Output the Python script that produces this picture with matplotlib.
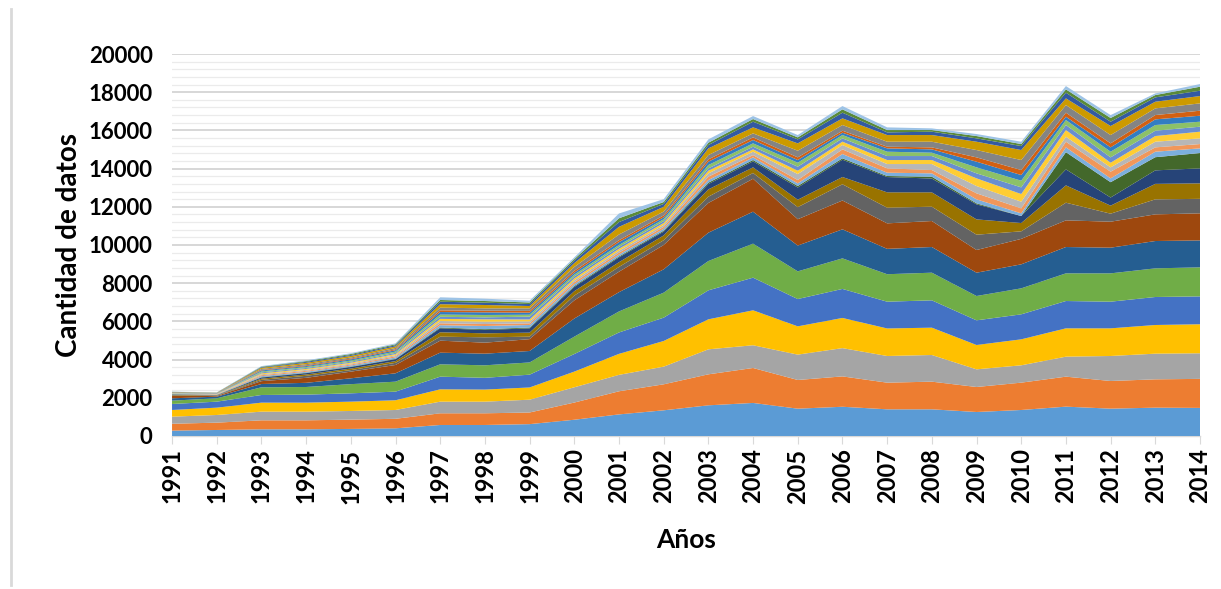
import numpy as np
import matplotlib.pyplot as plt
from matplotlib.lines import Line2D
from matplotlib.ticker import MultipleLocator

years = np.arange(1991, 2015)

# cumulative top of each layer (bottom layer first)
top01 = [280, 314, 349, 349, 370, 400, 576, 576, 620, 850, 1130, 1344, 1605, 1730, 1430, 1530, 1396, 1396, 1256, 1361, 1536, 1431, 1483, 1470]
top02 = [640, 698, 820, 820, 855, 900, 1187, 1187, 1230, 1750, 2340, 2705, 3228, 3560, 2932, 3120, 2792, 2844, 2565, 2792, 3106, 2879, 2966, 2990]
top03 = [1012, 1099, 1274, 1274, 1309, 1361, 1797, 1797, 1900, 2550, 3200, 3630, 4537, 4750, 4260, 4600, 4188, 4240, 3490, 3700, 4153, 4188, 4310, 4330]
top04 = [1361, 1483, 1745, 1745, 1797, 1870, 2443, 2430, 2540, 3370, 4300, 4973, 6108, 6580, 5740, 6180, 5630, 5671, 4764, 5060, 5636, 5636, 5811, 5850]
top05 = [1675, 1797, 2146, 2165, 2234, 2321, 3106, 3045, 3210, 4290, 5420, 6195, 7626, 8289, 7170, 7700, 7032, 7102, 6055, 6369, 7067, 7032, 7277, 7310]
top06 = [1850, 1972, 2548, 2565, 2714, 2844, 3752, 3700, 3850, 5200, 6520, 7504, 9161, 10070, 8620, 9300, 8470, 8550, 7329, 7730, 8515, 8515, 8777, 8830]
top07 = [1972, 2059, 2722, 2783, 3019, 3281, 4363, 4310, 4450, 6150, 7530, 8725, 10645, 11744, 9970, 10820, 9798, 9894, 8550, 8987, 9894, 9859, 10208, 10240]
top08 = [2094, 2094, 2870, 3045, 3368, 3717, 4991, 4886, 5070, 7100, 8600, 10000, 12200, 13470, 11350, 12330, 11133, 11255, 9737, 10320, 11290, 11220, 11604, 11657]
top09 = [2130, 2110, 2940, 3150, 3450, 3830, 5200, 5165, 5200, 7350, 8850, 10250, 12529, 13770, 11980, 13180, 11953, 12006, 10540, 10715, 12215, 11640, 12390, 12416]
top10 = [2160, 2125, 3000, 3220, 3530, 3920, 5430, 5375, 5410, 7580, 9100, 10500, 12913, 14065, 12370, 13560, 12756, 12756, 11340, 11150, 13122, 12060, 13200, 13227]
top11 = [2180, 2140, 3060, 3290, 3610, 4020, 5640, 5549, 5636, 7800, 9350, 10700, 13192, 14380, 13010, 14466, 13558, 13480, 12128, 11517, 13960, 12486, 13908, 14012]
top12 = [2190, 2150, 3080, 3310, 3630, 4040, 5680, 5590, 5680, 7850, 9400, 10750, 13262, 14449, 13088, 14536, 13611, 13576, 12180, 11517, 14860, 13288, 14597, 14815]
top13 = [2200, 2165, 3130, 3360, 3690, 4110, 5800, 5758, 5811, 7950, 9500, 10850, 13402, 14588, 13227, 14763, 13786, 13751, 12390, 11657, 15112, 13489, 14885, 15059]
top14 = [2210, 2180, 3180, 3410, 3740, 4170, 5900, 5863, 5898, 8050, 9600, 10950, 13576, 14710, 13402, 15007, 14012, 13925, 12704, 11918, 15408, 13838, 15112, 15286]
top15 = [2220, 2190, 3230, 3460, 3790, 4230, 6020, 5985, 6000, 8150, 9700, 11050, 13751, 14885, 13716, 15234, 14239, 14239, 13088, 12267, 15670, 14065, 15408, 15583]
top16 = [2230, 2200, 3280, 3510, 3840, 4290, 6130, 6108, 6100, 8250, 9800, 11150, 13891, 15007, 13891, 15408, 14449, 14449, 13489, 12669, 16019, 14309, 15705, 15932]
top17 = [2240, 2210, 3330, 3560, 3890, 4350, 6240, 6213, 6247, 8350, 9900, 11250, 14012, 15147, 14100, 15583, 14658, 14658, 13751, 13018, 16281, 14588, 15984, 16194]
top18 = [2250, 2220, 3380, 3610, 3950, 4420, 6360, 6335, 6350, 8450, 10000, 11350, 14187, 15321, 14309, 15757, 14885, 14833, 14065, 13367, 16543, 14885, 16281, 16455]
top19 = [2260, 2230, 3430, 3660, 4010, 4490, 6490, 6474, 6457, 8550, 10150, 11450, 14361, 15496, 14449, 15880, 15059, 15007, 14361, 13663, 16717, 15112, 16578, 16769]
top20 = [2265, 2235, 3460, 3700, 4050, 4540, 6580, 6561, 6550, 8650, 10250, 11550, 14484, 15635, 14588, 15984, 15147, 15112, 14588, 13925, 16927, 15321, 16804, 17031]
top21 = [2280, 2250, 3510, 3760, 4110, 4610, 6720, 6683, 6683, 8850, 10550, 11750, 14710, 15845, 14937, 16281, 15408, 15408, 14972, 14449, 17328, 15757, 17153, 17415]
top22 = [2295, 2260, 3570, 3830, 4190, 4690, 6900, 6858, 6805, 9050, 10950, 12000, 15059, 16159, 15321, 16630, 15757, 15757, 15408, 14972, 17677, 16229, 17502, 17799]
top23 = [2305, 2265, 3600, 3880, 4240, 4750, 7030, 6980, 6910, 9180, 11200, 12150, 15234, 16455, 15530, 16927, 15897, 15932, 15583, 15181, 17974, 16455, 17729, 18078]
top24 = [2312, 2270, 3630, 3920, 4290, 4800, 7120, 7067, 6990, 9260, 11400, 12250, 15356, 16595, 15635, 17101, 16019, 16019, 15705, 15286, 18148, 16650, 17851, 18288]
top25 = [2321, 2280, 3660, 3960, 4330, 4850, 7260, 7189, 7085, 9350, 11650, 12400, 15530, 16752, 15757, 17275, 16159, 16106, 15810, 15408, 18323, 16800, 17938, 18427]

tops = np.array([top01, top02, top03, top04, top05, top06, top07, top08, top09, top10,
                 top11, top12, top13, top14, top15, top16, top17, top18, top19, top20,
                 top21, top22, top23, top24, top25])
layers = np.diff(np.vstack([np.zeros(len(years)), tops]), axis=0)

colors = ['#5B9BD5', '#ED7D31', '#A5A5A5', '#FFC000', '#4472C4', '#70AD47',
          '#255E91', '#9E480E', '#636363', '#997300', '#264478', '#43682B',
          '#7CAFDD', '#F1975A', '#B7B7B7', '#FFCD33', '#698ED0', '#8CC168',
          '#327DC2', '#D26012', '#848484', '#CC9A00', '#335AA1', '#5A8A39',
          '#9DC3E6']

fig = plt.figure(figsize=(12.21, 5.89), dpi=100)
ax = fig.add_axes([0.1409, 0.2598, 0.8419, 0.6485])

ax.stackplot(years, layers, colors=colors, linewidth=0, zorder=3)

ax.set_xlim(1991, 2014)
ax.set_ylim(0, 20000)
ax.yaxis.set_major_locator(MultipleLocator(2000))
ax.yaxis.set_minor_locator(MultipleLocator(400))
ax.set_xticks(years)
ax.set_xticklabels([str(y) for y in years], rotation=90)

ax.grid(which='major', axis='y', color='#D4D4D4', linewidth=1.3, zorder=0)
ax.grid(which='minor', axis='y', color='#EBEBEB', linewidth=0.9, zorder=0)
ax.set_axisbelow(True)

for s in ['top', 'right', 'left']:
    ax.spines[s].set_visible(False)
ax.spines['bottom'].set_color('#D9D9D9')
ax.spines['bottom'].set_linewidth(1.0)

ax.tick_params(axis='y', which='both', length=0, pad=14, labelsize=16)
ax.tick_params(axis='x', length=6, color='#D9D9D9', pad=3, labelsize=17)
for lbl in ax.get_xticklabels() + ax.get_yticklabels():
    lbl.set_fontweight('bold')
    lbl.set_family('Lato')

ax.set_ylabel('Cantidad de datos', fontsize=20, fontweight='bold', family='Lato')
ax.set_xlabel('Años', fontsize=19, fontweight='bold', family='Lato')
ax.yaxis.set_label_coords(-0.0875, 0.5)
ax.xaxis.set_label_coords(0.5, -0.241)

fig.add_artist(Line2D([0.009, 0.009], [0.007, 0.985], color='#D9D9D9', linewidth=2,
                      transform=fig.transFigure))

fig.savefig('out.png', dpi=100)
